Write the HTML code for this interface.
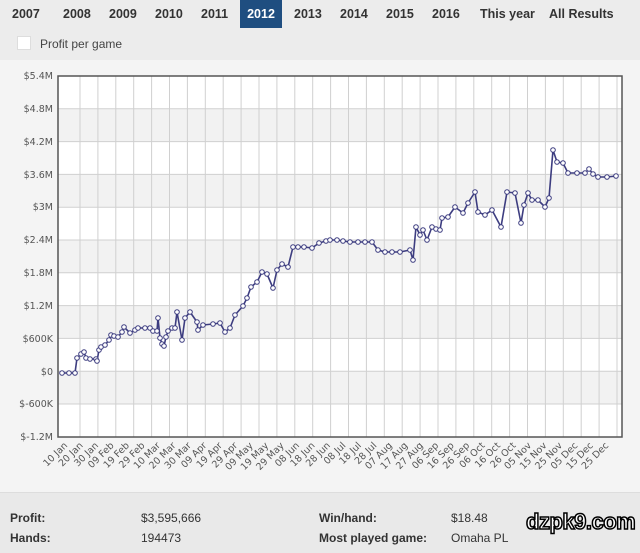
<!DOCTYPE html>
<html><head><meta charset="utf-8"><style>
body{margin:0;width:640px;height:552px;overflow:hidden;background:#f4f4f4;font-family:"Liberation Sans",Arial,sans-serif;position:relative}
.top{position:absolute;left:0;top:0;width:640px;height:60px;background:#ececec}
.tab{position:absolute;top:0;height:28px;line-height:28px;font-size:12.5px;font-weight:bold;color:#333}
.sel{background:#1f4e80;color:#fff;text-align:center}
.stats{position:absolute;left:0;top:492px;width:640px;height:60px;background:#e9e9e9;border-top:1px solid #ddd;font-size:12px;color:#333}
.stats div{position:absolute}
.b{font-weight:bold}
</style></head><body>
<div class="top">
<div class="tab" style="left:12px">2007</div>
<div class="tab" style="left:63px">2008</div>
<div class="tab" style="left:109px">2009</div>
<div class="tab" style="left:155px">2010</div>
<div class="tab" style="left:201px">2011</div>
<div class="tab sel" style="left:240px;width:42px">2012</div>
<div class="tab" style="left:294px">2013</div>
<div class="tab" style="left:340px">2014</div>
<div class="tab" style="left:386px">2015</div>
<div class="tab" style="left:432px">2016</div>
<div class="tab" style="left:480px">This year</div>
<div class="tab" style="left:549px">All Results</div>
<div style="position:absolute;left:17px;top:36px;width:12px;height:12px;background:#fff;border:1px solid #ddd"></div>
<div style="position:absolute;left:40px;top:37px;font-size:12px;color:#444">Profit per game</div>
</div>
<svg width="640" height="552" style="position:absolute;left:0;top:0" font-family="DejaVu Sans,Verdana,sans-serif" font-size="9.5" fill="#555">
<g id="bands">
<rect x="58" y="76" width="564" height="361" fill="#fff"/>
<rect x="58" y="108.8" width="564" height="32.8" fill="#f2f2f2"/>
<rect x="58" y="174.4" width="564" height="32.8" fill="#f2f2f2"/>
<rect x="58" y="240" width="564" height="32.8" fill="#f2f2f2"/>
<rect x="58" y="305.6" width="564" height="32.8" fill="#f2f2f2"/>
<rect x="58" y="371.2" width="564" height="32.8" fill="#f2f2f2"/>
</g>
<g stroke="#d0d0d0" stroke-width="1">
<path d="M58 108.8H622M58 141.6H622M58 174.4H622M58 207.2H622M58 240H622M58 272.8H622M58 305.6H622M58 338.4H622M58 371.2H622M58 404H622"/>
<path d="M80 76V437M97.9 76V437M115.8 76V437M133.7 76V437M151.6 76V437M169.5 76V437M187.4 76V437M205.3 76V437M223.2 76V437M241.1 76V437M259 76V437M276.9 76V437M294.8 76V437M312.7 76V437M330.6 76V437M348.5 76V437M366.4 76V437M384.3 76V437M402.2 76V437M420.1 76V437M438 76V437M455.9 76V437M473.8 76V437M491.7 76V437M509.6 76V437M527.5 76V437M545.4 76V437M563.3 76V437M581.2 76V437M599.1 76V437M617 76V437"/>
</g>
<rect x="58" y="76" width="564" height="361" fill="none" stroke="#555" stroke-width="1.5"/>
<g text-anchor="end">
<text x="53" y="79">$5.4M</text><text x="53" y="112">$4.8M</text><text x="53" y="145">$4.2M</text><text x="53" y="178">$3.6M</text><text x="53" y="210">$3M</text><text x="53" y="243">$2.4M</text><text x="53" y="276">$1.8M</text><text x="53" y="309">$1.2M</text><text x="53" y="342">$600K</text><text x="53" y="375">$0</text><text x="53" y="407">$-600K</text><text x="53" y="440">$-1.2M</text>
</g>
<g id="xl" text-anchor="end"></g>
<polyline id="ln" fill="none" stroke="#3d3d80" stroke-width="1.6" stroke-linejoin="round"/>
<g id="mk" fill="#fff" stroke="#3d3d80" stroke-width="1"></g>
</svg>
<div class="stats">
<div class="b" style="left:10px;top:18px">Profit:</div>
<div style="left:141px;top:18px">$3,595,666</div>
<div class="b" style="left:319px;top:18px">Win/hand:</div>
<div style="left:451px;top:18px">$18.48</div>
<div class="b" style="left:10px;top:38px">Hands:</div>
<div style="left:141px;top:38px">194473</div>
<div class="b" style="left:319px;top:38px">Most played game:</div>
<div style="left:451px;top:38px">Omaha PL</div>
<div style="left:526px;top:16px;font-size:22px;font-weight:bold;color:#fff;-webkit-text-stroke:1.5px #000;letter-spacing:-0.5px">dzpk9.com</div>
</div>
<script>
var labs=["10 Jan","20 Jan","30 Jan","09 Feb","19 Feb","29 Feb","10 Mar","20 Mar","30 Mar","09 Apr","19 Apr","29 Apr","09 May","19 May","29 May","08 Jun","18 Jun","28 Jun","08 Jul","18 Jul","28 Jul","07 Aug","17 Aug","27 Aug","06 Sep","16 Sep","26 Sep","06 Oct","16 Oct","26 Oct","05 Nov","15 Nov","25 Nov","05 Dec","15 Dec","25 Dec"];
var g=document.getElementById('xl'),h="";
labs.forEach(function(l,i){var x=68+i*15.46,y=446;h+='<text x="'+x+'" y="'+y+'" transform="rotate(-45 '+x+' '+y+')">'+l+'</text>';});
g.innerHTML=h;
var p=[[62,373],[69,373],[75,373],[77,358],[81,354],[84,352],[86,358],[90,359],[96,359],[97,361],[99,350],[101,347],[105,345],[109,340],[111,335],[114,336],[118,337],[122,332],[124,327],[130,333],[135,330],[138,328],[145,328],[150,328],[153,331],[157,331],[158,318],[160,338],[162,344],[164,346],[166,337],[168,331],[172,328],[175,328],[177,312],[182,340],[185,318],[190,312],[197,322],[198,330],[203,325],[213,324],[220,323],[225,332],[230,328],[235,315],[243,306],[247,298],[251,287],[257,282],[262,272],[267,274],[273,288],[277,270],[282,264],[288,267],[293,247],[298,247],[304,247],[312,248],[319,243],[326,241],[330,240],[337,240],[343,241],[350,242],[358,242],[365,242],[372,242],[378,250],[385,252],[392,252],[400,252],[410,250],[413,260],[416,227],[420,235],[423,230],[427,240],[432,227],[436,229],[440,230],[442,218],[448,217],[455,207],[463,213],[468,203],[475,192],[478,212],[485,215],[492,210],[501,227],[507,192],[515,193],[521,223],[524,205],[528,193],[532,200],[538,200],[545,207],[549,198],[553,150],[557,162],[563,163],[568,173],[577,173],[585,173],[589,169],[593,174],[598,177],[607,177],[616,176]];
document.getElementById('ln').setAttribute('points',p.map(function(a){return a.join(',')}).join(' '));
var m="";p.forEach(function(a,i){if(i%1==0)m+='<circle cx="'+a[0]+'" cy="'+a[1]+'" r="2.3"/>';});
document.getElementById('mk').innerHTML=m;
</script>
</body></html>
